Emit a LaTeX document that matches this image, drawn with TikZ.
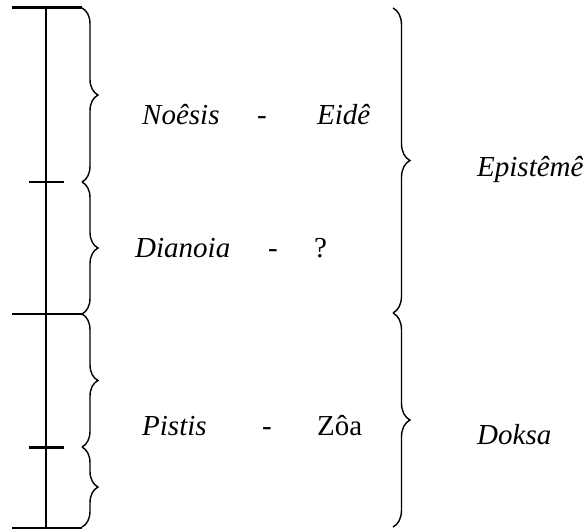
\documentclass[tikz,border=0pt]{standalone}
\usepackage{fontspec}
\setmainfont{Liberation Serif}
\usetikzlibrary{decorations.pathreplacing}
\begin{document}
\begin{tikzpicture}[x=1pt,y=-1pt,
  txt/.style={anchor=base west,inner sep=0pt,font=\fontsize{29}{34}\selectfont\itshape},
  txtup/.style={anchor=base west,inner sep=0pt,font=\fontsize{29}{34}\selectfont},
  dashlbl/.style={anchor=base,inner sep=0pt,font=\fontsize{29}{34}\selectfont},
  lbrace/.style={decorate,decoration={brace,amplitude=16pt},line width=1.4pt},
  rbrace/.style={decorate,decoration={brace,amplitude=17pt},line width=1.4pt},
  bar/.style={line width=2pt},
  thickbar/.style={line width=3pt}]
\useasboundingbox (0,0) rectangle (583,529);
% axis
\coordinate (vtop) at (46,8);
\coordinate (vbot) at (46,528);
\coordinate (h1a) at (12,8);   \coordinate (h1b) at (82,8);
\coordinate (t1a) at (29,182); \coordinate (t1b) at (64,182);
\coordinate (h2a) at (12,314); \coordinate (h2b) at (82,314);
\coordinate (t2a) at (29,447); \coordinate (t2b) at (64,447);
\coordinate (h3a) at (12,528); \coordinate (h3b) at (82,528);
\draw[bar] (vtop) -- (vbot);
\draw[thickbar] (h1a) -- (h1b);
\draw[bar] (t1a) -- (t1b);
\draw[bar] (h2a) -- (h2b);
\draw[thickbar] (t2a) -- (t2b);
\draw[bar] (h3a) -- (h3b);
% left braces
\coordinate (lb1) at (82,8);
\coordinate (lb2) at (82,182);
\coordinate (lb3) at (82,314);
\coordinate (lb4) at (82,447);
\coordinate (lb5) at (82,527);
\draw[lbrace] (lb1) -- (lb2);
\draw[lbrace] (lb2) -- (lb3);
\draw[lbrace] (lb3) -- (lb4);
\draw[lbrace] (lb4) -- (lb5);
% right braces
\coordinate (rb1) at (393,8);
\coordinate (rb2) at (393,313);
\coordinate (rb3) at (393,527);
\draw[rbrace] (rb1) -- (rb2);
\draw[rbrace] (rb2) -- (rb3);
% texts
\node[txt] (noesis) at (142,125) {Noêsis};
\node[dashlbl] (d1) at (262,125) {-};
\node[txt] (eide) at (317,125) {Eidê};
\node[txt] (dianoia) at (135,258) {Dianoia};
\node[dashlbl] (d2) at (273,258) {-};
\node[txtup] (q) at (314,258) {?};
\node[txt] (pistis) at (142,435) {Pistis};
\node[dashlbl] (d3) at (267,435) {-};
\node[txtup] (zoa) at (317,435) {Zôa};
\node[txt] (episteme) at (477,177) {Epistêmê};
\node[txt] (doksa) at (477,444) {Doksa};
\end{tikzpicture}
\end{document}
